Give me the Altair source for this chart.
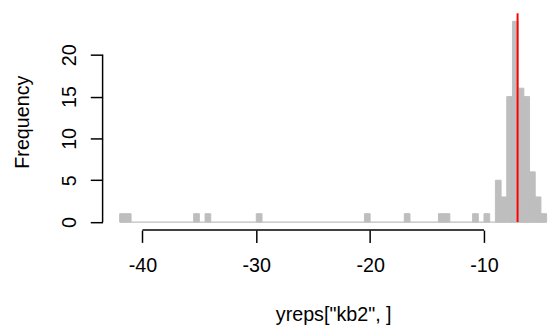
import altair as alt
import pandas as pd

# Histogram bins (left edges, width 0.5) and their counts
bin_start = [-42, -41.5, -35.5, -34.5, -30, -20.5, -17, -14, -13.5, -11, -10,
             -9, -8.5, -8, -7.5, -7, -6.5, -6, -5.5, -5]
counts = [1, 1, 1, 1, 1, 1, 1, 1, 1, 1, 1,
          5, 3, 15, 24, 16, 15, 6, 3, 1]
bin_width = 0.5
observed = [-7.05]
x_ticks = [-40, -30, -20, -10]
y_ticks = [0, 5, 10, 15, 20]
x_title = 'yreps["kb2", ]'
y_title = "Frequency"

FONT = "Liberation Sans"
GRAY = "#BEBEBE"
FS = 20

bars = pd.DataFrame({
    "start": bin_start,
    "end": [s + bin_width for s in bin_start],
    "count": counts,
})
ymax = max(counts)
y_dom = [-0.04 * ymax, 1.04 * ymax]
lo = min(bin_start)
hi = max(bin_start) + bin_width
x_dom = [lo - 0.04 * (hi - lo), -4.29]

xs = alt.Scale(domain=x_dom, nice=False, zero=False)
ys = alt.Scale(domain=y_dom, nice=False, zero=False)

x_axis = alt.Axis(
    values=x_ticks, domain=False, grid=False, tickSize=12.5, tickWidth=1.5,
    tickColor="black", labelFont=FONT, labelFontSize=FS, labelColor="black",
    labelExpr="datum.value + ''",
    labelBaseline="alphabetic", labelPadding=29.5, labelFlush=False,
    labelOverlap=False, title=x_title, titleFont=FONT, titleFontSize=FS,
    titleFontWeight="normal", titleColor="black", titleX=234, titleY=91.5,
    titleAlign="center", titleBaseline="alphabetic",
)
y_axis = alt.Axis(
    values=y_ticks, domain=False, grid=False, tickSize=12.5, tickWidth=1.5,
    tickColor="black", labelFont=FONT, labelFontSize=FS, labelColor="black",
    labelExpr="datum.value + ''",
    labelAngle=270, labelAlign="center", labelBaseline="alphabetic",
    labelPadding=14.5, labelFlush=False, labelOverlap=False,
    title=y_title, titleFont=FONT, titleFontSize=FS, titleFontWeight="normal",
    titleColor="black", titleAngle=270, titleX=-75.5, titleY=110,
    titleAlign="center", titleBaseline="alphabetic",
)

hist = alt.Chart(bars).mark_rect(color=GRAY, stroke=GRAY, strokeWidth=1).encode(
    x=alt.X("start:Q", scale=xs, axis=x_axis),
    x2="end:Q",
    y=alt.Y("count:Q", scale=ys, axis=y_axis),
    y2=alt.datum(0),
)

baseline = alt.Chart(pd.DataFrame({"a": [lo], "b": [hi]})).mark_rule(
    color=GRAY, strokeWidth=1.2
).encode(x=alt.X("a:Q", scale=xs), x2="b:Q", y=alt.datum(0))

obs = alt.Chart(pd.DataFrame({"v": observed})).mark_rule(
    color="#FF0000", strokeWidth=2
).encode(x=alt.X("v:Q", scale=xs), y=alt.datum(0), y2=alt.datum(y_dom[1]))

xline = alt.Chart(pd.DataFrame({"a": [min(x_ticks)], "b": [max(x_ticks)]})).mark_rule(
    color="black", strokeWidth=1.5
).encode(x=alt.X("a:Q", scale=xs), x2="b:Q", y=alt.datum(y_dom[0]))

yline = alt.Chart(pd.DataFrame({"a": [min(y_ticks)], "b": [max(y_ticks)]})).mark_rule(
    color="black", strokeWidth=1.5
).encode(x=alt.datum(x_dom[0]), y=alt.Y("a:Q", scale=ys), y2="b:Q")

chart = alt.layer(baseline, hist, obs, xline, yline).properties(
    width=453, height=220,
    padding={"left": 96, "top": 3, "right": 0, "bottom": 97},
    autosize=alt.AutoSizeParams(type="none"),
    background="white",
).configure_view(stroke=None)

chart.save("out.html", embed_options={"renderer": "svg", "actions": False})
